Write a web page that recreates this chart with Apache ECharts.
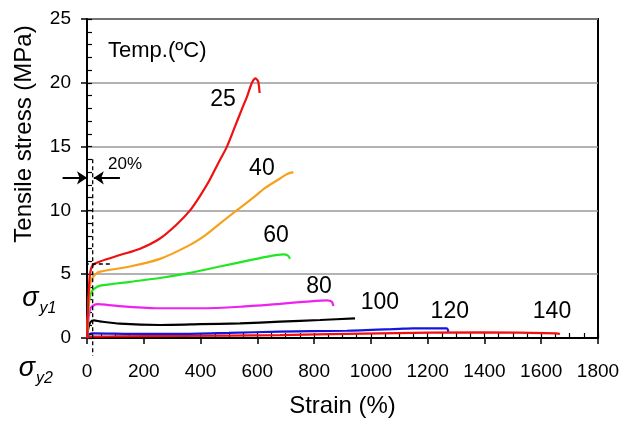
<!DOCTYPE html>
<html>
<head>
<meta charset="utf-8">
<script src="https://cdn.jsdelivr.net/npm/echarts@6.0.0/dist/echarts.min.js"></script>
<style>
  html, body { margin: 0; padding: 0; background: #fff; }
  #chart { width: 622px; height: 423px; }
</style>
</head>
<body>
<div id="chart"></div>
<script>
// strain (%) vs tensile stress (MPa), one array per test temperature
const t25 = [[0,0],[4,2.6],[9,4.7],[15,5.5],[25,5.8],[46,6.0],[116,6.5],[187,7.0],[257,7.8],[316,8.9],[363,10.0],[400,11.2],[430,12.3],[460,13.6],[493,15.0],[520,16.5],[545,17.9],[565,19.0],[581,20.0],[594,20.35],[603,20.1],[608,19.2]];
const t40 = [[0,0],[4,2.1],[9,3.9],[16,4.6],[30,5.0],[46,5.2],[151,5.6],[257,6.2],[363,7.3],[420,8.1],[470,9.0],[527,10.0],[580,10.9],[630,11.8],[680,12.5],[705,12.85],[727,13.0]];
const t60 = [[0,0],[4,1.8],[9,3.1],[16,3.6],[25,3.85],[46,4.1],[151,4.4],[257,4.7],[363,5.1],[468,5.6],[574,6.1],[640,6.4],[692,6.55],[708,6.45],[715,6.2]];
const t80 = [[0,0],[5,1.5],[12,2.3],[22,2.55],[40,2.65],[70,2.6],[116,2.5],[257,2.33],[398,2.33],[539,2.45],[680,2.68],[774,2.85],[845,2.95],[862,2.85],[868,2.5]];
const t100 = [[0,0],[5,0.8],[12,1.25],[25,1.38],[46,1.3],[116,1.12],[257,1.02],[398,1.08],[539,1.15],[680,1.28],[821,1.41],[944,1.54]];
const t120 = [[0,0],[8,0.3],[22,0.37],[150,0.33],[327,0.32],[500,0.4],[680,0.5],[915,0.57],[1100,0.72],[1149,0.76],[1267,0.76],[1273,0.5]];
const t140 = [[0,0],[10,0.1],[100,0.12],[327,0.16],[680,0.23],[1032,0.37],[1384,0.44],[1654,0.37],[1666,0.31]];

const curveNames = ['25', '40', '60', '80', '100', '120', '140'];
const curveLabelAt = [[479,18.7],[616,13.3],[666,8.0],[817,4.0],[1032,2.74],[1278,2.1],[1638,2.1]];

// dashed guide lines (data units)
const guide20 = [[20,14.0],[20,-1.4]];
const guideY1 = [[-160,4.8],[-160,5.8],[81,5.8]];
const guideY2 = [[-218,-0.7],[-218,0.31],[20,0.31]];
const arrows = [[[-86,12.55],[0,12.55]], [[116,12.55],[24,12.55]]];

const xTicks = { min: 0, max: 1800, step: 200, minor: 50 };
const yTicks = { min: 0, max: 25, step: 5, minor: 1 };

const FONT = 'Liberation Sans, Arial, sans-serif';

const chart = echarts.init(document.getElementById('chart'));

function curve(data, color) {
  return {
    type: 'line', data, smooth: 0.25, symbol: 'none', silent: true,
    lineStyle: { color, width: 2.2 }, z: 3
  };
}
function dashed(data) {
  return {
    type: 'line', data, symbol: 'none', clip: false, silent: true,
    lineStyle: { color: '#000', width: 1.3, type: [4, 3] }, z: 4
  };
}

const txt = { fontFamily: FONT, color: '#000', textBorderWidth: 0 };

const option = {
  animation: false,
  backgroundColor: '#fff',
  grid: {
    left: 87, right: 24, top: 19, bottom: 85,
    show: true, borderColor: '#000', borderWidth: 2,
    outerBoundsMode: 'none'
  },
  xAxis: [{
    type: 'value', min: xTicks.min, max: xTicks.max, interval: xTicks.step,
    position: 'bottom',
    name: 'Strain (%)', nameLocation: 'middle', nameGap: 56,
    nameTextStyle: { ...txt, fontSize: 24 },
    axisLine: { onZero: false, lineStyle: { color: '#000', width: 2 } },
    axisTick: { inside: false, length: 6, lineStyle: { color: '#000', width: 1.5 } },
    axisLabel: { ...txt, fontSize: 19, margin: 24, formatter: v => String(v) },
    splitLine: { show: false }
  }, {
    type: 'value', min: xTicks.min, max: xTicks.max, interval: xTicks.minor,
    position: 'bottom',
    axisLine: { show: false, onZero: false },
    axisTick: { inside: true, length: 5, lineStyle: { color: '#000', width: 1.2 } },
    axisLabel: { show: false }, splitLine: { show: false }
  }],
  yAxis: [{
    type: 'value', min: yTicks.min, max: yTicks.max, interval: yTicks.step,
    position: 'left',
    axisLine: { onZero: false, lineStyle: { color: '#000', width: 2 } },
    axisTick: { inside: false, length: 6, lineStyle: { color: '#000', width: 1.5 } },
    axisLabel: { ...txt, fontSize: 19, margin: 16 },
    splitLine: { lineStyle: { color: '#999', width: 1.5 } }
  }, {
    type: 'value', min: yTicks.min, max: yTicks.max, interval: yTicks.minor,
    position: 'left',
    axisLine: { show: false, onZero: false },
    axisTick: { inside: true, length: 5, lineStyle: { color: '#000', width: 1.2 } },
    axisLabel: { show: false }, splitLine: { show: false }
  }],
  graphic: [{
    type: 'text', x: 24, y: 134, rotation: Math.PI / 2, silent: true,
    style: {
      text: 'Tensile stress (MPa)', fill: '#000',
      font: '24px ' + FONT, textAlign: 'center', textVerticalAlign: 'middle'
    }
  }],
  series: [
    curve(t140, '#f01010'),
    curve(t120, '#1515e0'),
    curve(t100, '#000000'),
    curve(t80, '#ee22ee'),
    curve(t60, '#22e622'),
    curve(t40, '#f7a11a'),
    curve(t25, '#ee1111'),
    dashed(guide20),
    dashed(guideY1),
    dashed(guideY2),
    {
      type: 'lines', coordinateSystem: 'cartesian2d', clip: false, silent: true,
      symbol: ['none', 'arrow'], symbolSize: 10,
      lineStyle: { color: '#000', width: 2, opacity: 1 },
      data: arrows.map(c => ({ coords: c })), z: 5
    },
    {
      type: 'scatter', symbolSize: 0, clip: false, silent: true, z: 6,
      itemStyle: { color: '#000', opacity: 1 },
      label: {
        show: true, position: 'inside', formatter: '{b}',
        ...txt, fontSize: 23
      },
      data: curveNames.map((n, i) => ({ name: n, value: curveLabelAt[i] })).concat([
        { name: 'Temp.(ºC)', value: [74, 22.5],
          label: { align: 'left', fontSize: 22, position: [0, 0], verticalAlign: 'middle' } },
        { name: '20%', value: [74, 13.6],
          label: { align: 'left', fontSize: 17, position: [0, 0], verticalAlign: 'middle' } },
        { name: 'y1', value: [-168, 3.1],
          label: { formatter: '{s|σ}{sub|y1}' } },
        { name: 'y2', value: [-180, -2.35],
          label: { formatter: '{s|σ}{sub|y2}' } }
      ]),
      labelLayout: { hideOverlap: false }
    }
  ]
};

// rich text styles for the sigma labels
const sigmaRich = {
  s: { fontFamily: FONT, fontSize: 27, fontStyle: 'italic', color: '#000', verticalAlign: 'bottom' },
  sub: { fontFamily: FONT, fontSize: 16, fontStyle: 'italic', color: '#000', verticalAlign: 'bottom', padding: [0, 0, -5, 1] }
};
option.series[option.series.length - 1].label.rich = sigmaRich;

chart.setOption(option);
</script>
</body>
</html>
